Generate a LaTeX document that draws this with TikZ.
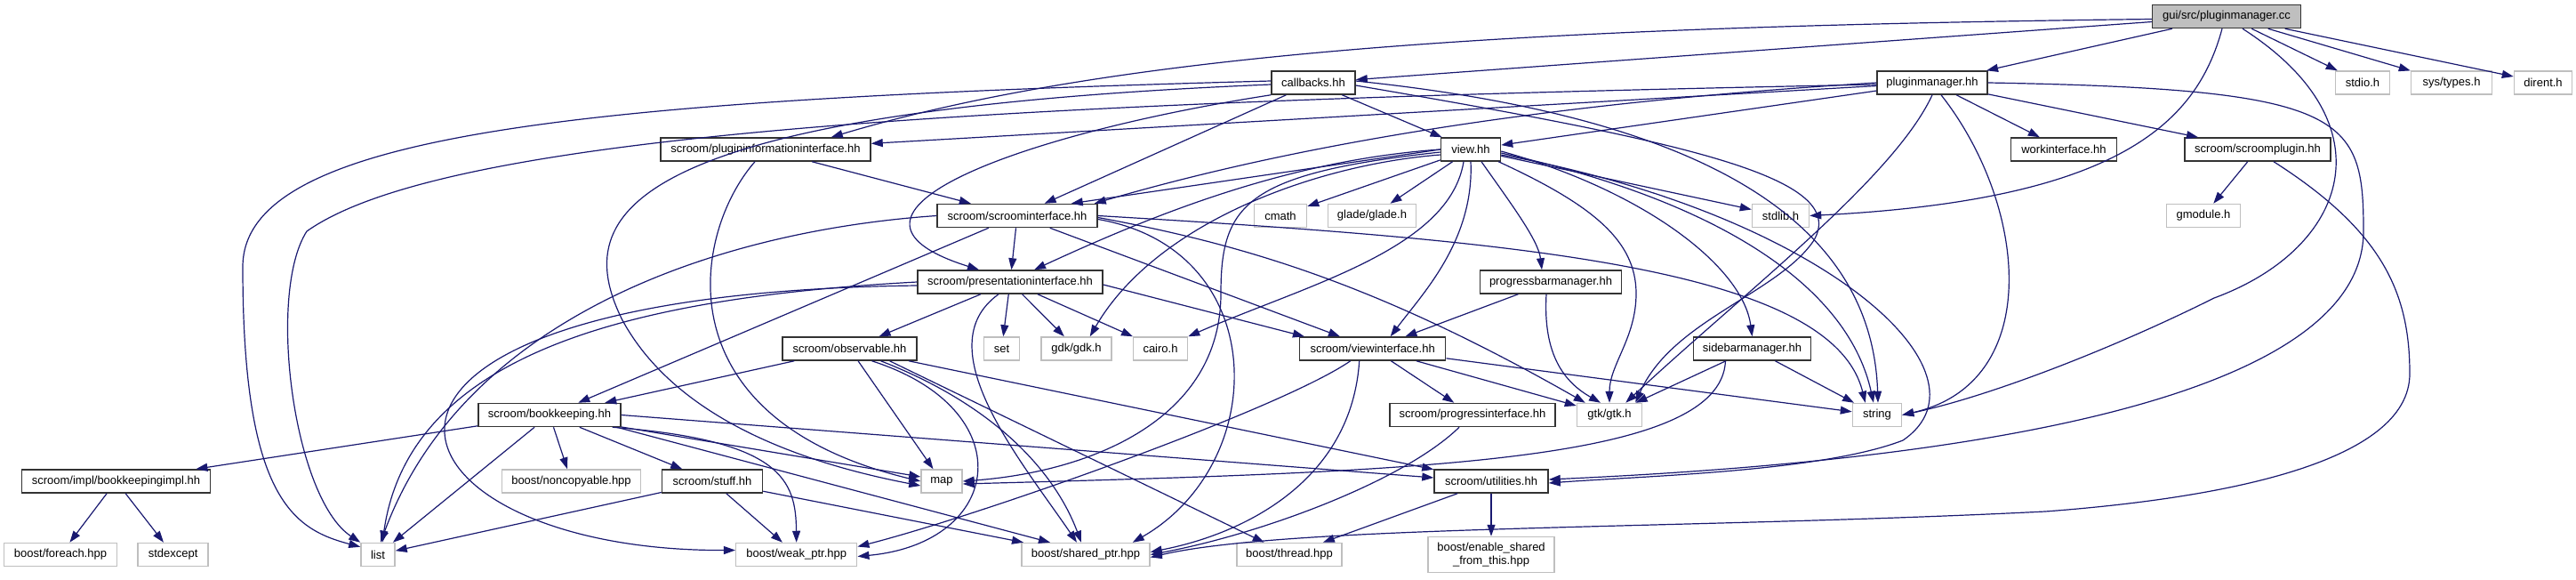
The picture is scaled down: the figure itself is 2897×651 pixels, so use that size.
\documentclass[tikz,border=0pt]{standalone}
\usepackage{fontspec}
\setmainfont{Liberation Sans}
\usetikzlibrary{arrows.meta}
\definecolor{edgeblue}{HTML}{191970}
\begin{document}
\begin{tikzpicture}[
  x=1pt, y=-1pt,
  font=\fontsize{13}{15}\selectfont,
  filebox/.style={rectangle, draw=black!80, line width=1.5pt, fill=white,
    minimum height=26pt, inner sep=0pt},
  sysbox/.style={rectangle, draw=black!25, line width=1.5pt, fill=white,
    minimum height=26pt, inner sep=0pt},
  rootbox/.style={filebox, fill=black!25},
  inc/.style={draw=edgeblue, line width=1.2pt, -{Triangle[length=13pt,width=9pt]}}
]
\useasboundingbox (0,0) rectangle (2897,651);

% row 0 and 1
\node[rootbox, minimum width=167pt] (root) at (2504,18.5) {gui/src/pluginmanager.cc};
\node[filebox, minimum width=94pt] (callbacks) at (1477,93) {callbacks.hh};
\node[filebox, minimum width=124pt] (pmhh) at (2173,93) {pluginmanager.hh};
\node[sysbox, minimum width=61pt] (stdio) at (2657,93) {stdio.h};
\node[sysbox, minimum width=91pt] (systypes) at (2757,93) {sys/types.h};
\node[sysbox, minimum width=65pt] (dirent) at (2860,93) {dirent.h};
% rows 2 and 3
\node[filebox, minimum width=236pt] (plugininfo) at (861,168) {scroom/plugininformationinterface.hh};
\node[filebox, minimum width=67pt] (view) at (1654,168) {view.hh};
\node[filebox, minimum width=119pt] (workif) at (2321,168) {workinterface.hh};
\node[filebox, minimum width=164pt] (scplugin) at (2539,168) {scroom/scroomplugin.hh};
\node[filebox, minimum width=180pt] (scroomif) at (1144,242.5) {scroom/scroominterface.hh};
\node[sysbox, minimum width=59pt] (cmath) at (1440,242.5) {cmath};
\node[sysbox, minimum width=99pt] (glade) at (1543,242.5) {glade/glade.h};
\node[sysbox, minimum width=64pt] (stdlib) at (2002.5,242.5) {stdlib.h};
\node[sysbox, minimum width=83pt] (gmodule) at (2478,242.5) {gmodule.h};
% rows 4 and 5
\node[filebox, minimum width=208pt] (presif) at (1136,317) {scroom/presentationinterface.hh};
\node[filebox, minimum width=159pt] (pbm) at (1744,317) {progressbarmanager.hh};
\node[filebox, minimum width=151pt] (observable) at (955.5,392) {scroom/observable.hh};
\node[sysbox, minimum width=40pt] (set) at (1126.5,392) {set};
\node[sysbox, minimum width=79pt] (gdk) at (1210.5,392) {gdk/gdk.h};
\node[sysbox, minimum width=61pt] (cairo) at (1305,392) {cairo.h};
\node[filebox, minimum width=164pt] (viewif) at (1543.7,392) {scroom/viewinterface.hh};
\node[filebox, minimum width=132pt] (sbm) at (1970.5,392) {sidebarmanager.hh};
% rows 6 and 7
\node[filebox, minimum width=160pt] (bookkeeping) at (618,466.5) {scroom/bookkeeping.hh};
\node[filebox, minimum width=186pt] (progif) at (1656,466.5) {scroom/progressinterface.hh};
\node[sysbox, minimum width=73pt] (gtk) at (1810,466.5) {gtk/gtk.h};
\node[sysbox, minimum width=55pt] (string) at (2111,466.5) {string};
\node[filebox, minimum width=212pt] (bkimpl) at (130.5,541) {scroom/impl/bookkeepingimpl.hh};
\node[sysbox, minimum width=156pt] (noncopy) at (642.5,541) {boost/noncopyable.hpp};
\node[filebox, minimum width=113pt] (stuff) at (801,541) {scroom/stuff.hh};
\node[sysbox, minimum width=46pt] (map) at (1059,541) {map};
\node[filebox, minimum width=128pt] (utilities) at (1677,541) {scroom/utilities.hh};
% row 8
\node[sysbox, minimum width=127pt] (foreach) at (68,623.5) {boost/foreach.hpp};
\node[sysbox, minimum width=79pt] (stdexcept) at (194.7,623.5) {stdexcept};
\node[sysbox, minimum width=38pt] (list) at (425,623.5) {list};
\node[sysbox, minimum width=136pt] (weakptr) at (895.7,623.5) {boost/weak\_ptr.hpp};
\node[sysbox, minimum width=144pt] (sharedptr) at (1221,623.5) {boost/shared\_ptr.hpp};
\node[sysbox, minimum width=118pt] (thread) at (1450,623.5) {boost/thread.hpp};
\node[sysbox, minimum width=142pt, minimum height=40pt, align=center] (enableshared) at (1677,623.5) {boost/enable\_shared\\\_from\_this.hpp};

% gui/src/pluginmanager.cc
\draw[inc] (root) -- (callbacks);
\draw[inc] ([yshift=-3pt]root.west) .. controls (1700,30) and (1250,60) .. ([xshift=-45pt]plugininfo.north east);
\draw[inc] (root) -- (pmhh);
\draw[inc] (root) -- (stdio);
\draw[inc] (root) -- (systypes);
\draw[inc] (root) -- (dirent);
\draw[inc] ([xshift=-5pt]root.south) .. controls (2470,140) and (2380,225) .. (stdlib.east);
\draw[inc] ([xshift=18pt]root.south) .. controls (2690,140) and (2640,280) .. (2490,335) .. controls (2380,390) and (2240,445) .. (string.east);

% callbacks.hh
\draw[inc] (callbacks) -- (view);
\draw[inc] (callbacks) -- (scroomif);
\draw[inc] (callbacks.south west) .. controls (1150,150) and (900,240) .. ([xshift=-35pt]presif.north);
\draw[inc] ([yshift=2pt]callbacks.west) .. controls (650,112) and (273,150) .. (273,300) .. controls (273,560) and (330,595) .. ([yshift=-5pt]list.north west);
\draw[inc] ([yshift=-2pt]callbacks.west) .. controls (700,125) and (640,240) .. (700,360) .. controls (760,470) and (900,520) .. ([yshift=-5pt]map.west);
\draw[inc] ([yshift=-3pt]callbacks.east) .. controls (1900,160) and (2080,200) .. (2040,270) .. controls (2000,330) and (1880,360) .. ([xshift=-8pt]gtk.north east);
\draw[inc] ([yshift=2pt]callbacks.east) .. controls (1900,130) and (2105,240) .. ([xshift=1pt]string.north);

% pluginmanager.hh
\draw[inc] (pmhh) -- (plugininfo);
\draw[inc] (pmhh) -- (view);
\draw[inc] (pmhh.west) .. controls (1800,112) and (1500,150) .. ([xshift=-4pt]scroomif.north east);
\draw[inc] (pmhh) -- (workif);
\draw[inc] (pmhh) -- (scplugin);
\draw[inc] ([yshift=-2pt]pmhh.west) .. controls (1100,115) and (500,150) .. (345,260) .. controls (300,330) and (330,560) .. (list.north west);
\draw[inc] (pmhh.south) .. controls (2130,200) and (1960,330) .. ([xshift=-19pt]gtk.north east);
\draw[inc] ([xshift=10pt]pmhh.south) .. controls (2280,230) and (2300,430) .. (string.east);
\draw[inc] (pmhh.east) .. controls (2640,100) and (2658,130) .. (2658,260) .. controls (2658,480) and (2050,525) .. ([yshift=2pt]utilities.east);

% scroom/plugininformationinterface.hh
\draw[inc] (plugininfo) -- (scroomif);
\draw[inc] ([xshift=-12pt]plugininfo.south) .. controls (780,260) and (740,470) .. (map.west);

% view.hh
\draw[inc] (view.west) -- ([xshift=-30pt]scroomif.north east);
\draw[inc] (view.west) .. controls (1450,180) and (1300,240) .. ([xshift=27pt]presif.north);
\draw[inc] (view) -- (cmath);
\draw[inc] (view) -- (glade);
\draw[inc] (view) -- (stdlib);
\draw[inc] ([xshift=-8pt]view.south) .. controls (1630,280) and (1470,320) .. (cairo.north east);
\draw[inc] ([yshift=-6pt]view.west) .. controls (1480,185) and (1300,250) .. ([xshift=-25pt]gdk.north east);
\draw[inc] ([yshift=-3pt]view.west) .. controls (1400,195) and (1373,230) .. (1373,330) .. controls (1373,470) and (1230,530) .. (map.east);
\draw[inc] (view.south) .. controls (1658,270) and (1600,330) .. ([xshift=20pt]viewif.north);
\draw[inc] ([xshift=12pt]view.south) .. controls (1700,230) and (1730,270) .. ([xshift=-10pt]pbm.north);
\draw[inc] ([yshift=-2pt]view.east) .. controls (1850,215) and (1960,300) .. (sbm.north);
\draw[inc] ([xshift=-3pt]view.south east) .. controls (1790,230) and (1840,270) .. (1840,330) .. controls (1840,380) and (1810,410) .. (gtk.north);
\draw[inc] ([yshift=-4pt]view.east) .. controls (1950,230) and (2080,330) .. ([xshift=-4pt]string.north);
\draw[inc] ([yshift=-6pt]view.east) .. controls (2050,240) and (2250,420) .. (2140,495) .. controls (2050,530) and (1850,535) .. ([yshift=-2pt]utilities.east);

% scroom/scroominterface.hh
\draw[inc] (scroomif) -- (presif);
\draw[inc] (scroomif) -- (viewif);
\draw[inc] (scroomif) -- (bookkeeping);
\draw[inc] (scroomif.west) .. controls (800,260) and (520,360) .. ([xshift=3pt]list.north);
\draw[inc] ([yshift=-4pt]scroomif.east) .. controls (1430,280) and (1430,520) .. ([xshift=-20pt]sharedptr.north east);
\draw[inc] ([yshift=-2pt]scroomif.east) .. controls (1400,275) and (1550,320) .. ([xshift=10pt]gtk.north west);
\draw[inc] (scroomif.east) .. controls (1700,270) and (2060,300) .. ([xshift=15pt]string.north west);

% scroom/presentationinterface.hh
\draw[inc] (presif) -- (observable);
\draw[inc] (presif) -- (set);
\draw[inc] (presif) -- (gdk);
\draw[inc] (presif) -- (cairo);
\draw[inc] ([yshift=-3pt]presif.east) -- ([xshift=6pt]viewif.north west);
\draw[inc] ([xshift=-13pt]presif.south) .. controls (1040,390) and (1150,520) .. ([xshift=-10pt]sharedptr.north);
\draw[inc] (presif.west) .. controls (700,335) and (460,400) .. ([xshift=5pt]list.north);
\draw[inc] ([yshift=-4pt]presif.west) .. controls (300,330) and (420,620) .. ([yshift=5pt]weakptr.west);

% scroom/observable.hh
\draw[inc] (observable) -- (bookkeeping);
\draw[inc] (observable) -- (utilities);
\draw[inc] (observable) -- (map);
\draw[inc] ([xshift=25pt]observable.south) .. controls (1150,460) and (1130,610) .. ([yshift=-2pt]weakptr.east);
\draw[inc] ([xshift=35pt]observable.south) .. controls (1130,460) and (1190,540) .. ([xshift=-5pt]sharedptr.north);
\draw[inc] ([xshift=45pt]observable.south) -- (thread);

% scroom/viewinterface.hh
\draw[inc] (viewif) -- (progif);
\draw[inc] (viewif) -- (gtk);
\draw[inc] (viewif) -- (string);
\draw[inc] ([xshift=-15pt]viewif.south) .. controls (1520,540) and (1400,600) .. ([yshift=3pt]sharedptr.east);
\draw[inc] ([xshift=-25pt]viewif.south) .. controls (1440,460) and (1100,580) .. ([yshift=9pt]weakptr.east);

% progressbarmanager.hh, sidebarmanager.hh
\draw[inc] (pbm) -- (viewif);
\draw[inc] ([xshift=-5pt]pbm.south) .. controls (1735,400) and (1760,430) .. ([xshift=-10pt]gtk.north);
\draw[inc] (sbm) -- (gtk);
\draw[inc] (sbm) -- (string);
\draw[inc] ([xshift=-30pt]sbm.south) .. controls (1935,520) and (1600,530) .. ([yshift=-3pt]map.east);

% scroom/progressinterface.hh
\draw[inc] ([xshift=-15pt]progif.south) .. controls (1580,540) and (1420,600) .. (sharedptr.east);

% scroom/bookkeeping.hh
\draw[inc] (bookkeeping) -- (bkimpl);
\draw[inc] (bookkeeping) -- (noncopy);
\draw[inc] (bookkeeping) -- (stuff);
\draw[inc] (bookkeeping) -- ([yshift=5pt]map.west);
\draw[inc] (bookkeeping) -- (list);
\draw[inc] ([xshift=-10pt]bookkeeping.south east) .. controls (880,495) and (895,540) .. (weakptr.north);
\draw[inc] ([xshift=-5pt]bookkeeping.south east) -- ([xshift=-40pt]sharedptr.north);
\draw[inc] (bookkeeping.east) -- ([yshift=4pt]utilities.west);

% scroom/stuff.hh
\draw[inc] (stuff) -- (list);
\draw[inc] (stuff) -- (weakptr);
\draw[inc] (stuff) -- (sharedptr);

% scroom/utilities.hh, bookkeepingimpl.hh, scroomplugin.hh
\draw[inc] (utilities) -- (thread);
\draw[inc] (utilities) -- (enableshared);
\draw[inc] (bkimpl) -- (foreach);
\draw[inc] (bkimpl) -- (stdexcept);
\draw[inc] (scplugin) -- (gmodule);
\draw[inc] ([xshift=18pt]scplugin.south) .. controls (2680,260) and (2710,330) .. (2710,420) .. controls (2710,520) and (2500,560) .. (2300,575) .. controls (1900,595) and (1450,590) .. ([yshift=-3pt]sharedptr.east);
\end{tikzpicture}
\end{document}
